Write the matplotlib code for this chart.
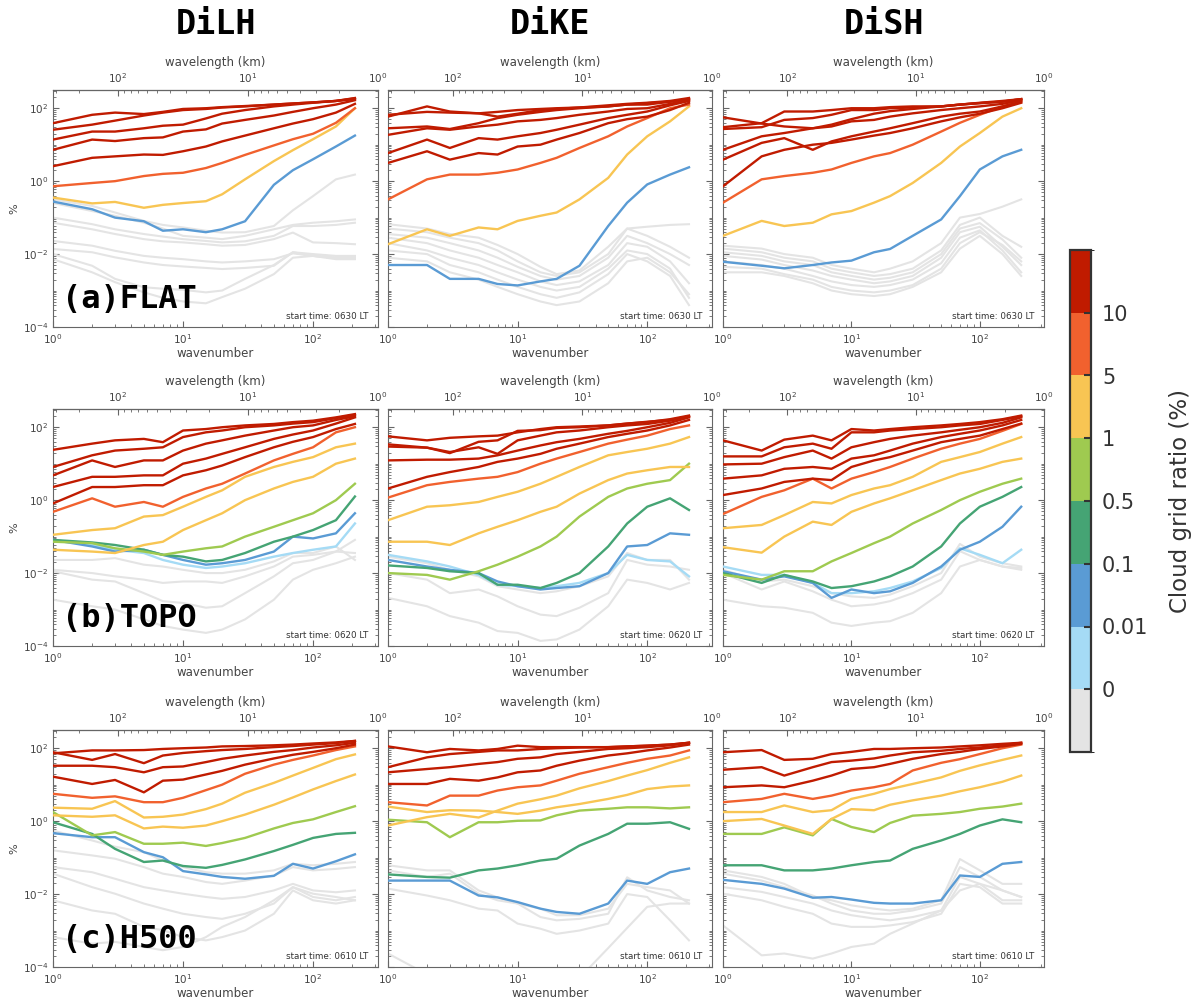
import numpy as np
import matplotlib.pyplot as plt
import matplotlib as mpl
from matplotlib.colors import ListedColormap, BoundaryNorm
from matplotlib.ticker import LogLocator, NullFormatter, FixedLocator

WAVENUMBER = [1, 2, 3, 5, 7, 10, 15, 20, 30, 50, 70, 100, 150, 210]
DOMAIN_KM = 316.0

CATEGORY_LABELS = ["0", "0.01", "0.1", "0.5", "1", "5", "10"]
# 0 gray, 1 light blue, 2 blue, 3 green, 4 light green, 5 yellow, 6 orange, 7 red
CATEGORY_COLORS = ["#e4e4e4", "#a5dbf5", "#5a9bd4", "#45a474", "#9fca50",
                   "#f8c553", "#f1612e", "#c01b00"]
ROW_NAMES = ["(a)FLAT", "(b)TOPO", "(c)H500"]
COL_NAMES = ["DiLH", "DiKE", "DiSH"]
START_TIMES = ["0630", "0620", "0610"]

# each entry: (category, log10 of % at WAVENUMBER)
FLAT_DILH = [
    (7, [1.59, 1.82, 1.88, 1.84, 1.9, 1.98, 2.0, 2.03, 2.06, 2.1, 2.13, 2.16, 2.2, 2.25]),
    (7, [1.41, 1.55, 1.66, 1.8, 1.88, 1.95, 1.98, 2.02, 2.05, 2.1, 2.13, 2.16, 2.2, 2.28]),
    (7, [1.14, 1.36, 1.36, 1.45, 1.52, 1.55, 1.72, 1.85, 1.95, 2.05, 2.1, 2.15, 2.2, 2.27]),
    (7, [0.86, 1.14, 1.1, 1.18, 1.2, 1.36, 1.42, 1.58, 1.68, 1.8, 1.9, 2.0, 2.1, 2.22]),
    (7, [0.41, 0.64, 0.68, 0.73, 0.72, 0.82, 0.95, 1.09, 1.25, 1.45, 1.58, 1.7, 1.88, 2.12]),
    (6, [-0.14, -0.05, 0.0, 0.14, 0.2, 0.23, 0.36, 0.5, 0.72, 0.98, 1.15, 1.3, 1.6, 2.0]),
    (5, [-0.45, -0.61, -0.57, -0.73, -0.65, -0.6, -0.55, -0.36, 0.05, 0.55, 0.85, 1.15, 1.5, 2.0]),
    (2, [-0.56, -0.77, -1.0, -1.1, -1.36, -1.32, -1.4, -1.32, -1.1, -0.1, 0.3, 0.6, 0.95, 1.25]),
    (0, [-0.5, -0.68, -0.86, -1.09, -1.2, -1.27, -1.36, -1.41, -1.4, -1.23, -0.8, -0.41, 0.05, 0.18]),
    (0, [-0.6, -0.82, -0.95, -1.14, -1.3, -1.5, -1.55, -1.59, -1.5, -1.32, -1.2, -1.14, -1.1, -1.05]),
    (0, [-1.0, -1.18, -1.32, -1.45, -1.52, -1.59, -1.64, -1.68, -1.65, -1.5, -1.23, -1.23, -1.2, -1.14]),
    (0, [-1.14, -1.32, -1.45, -1.59, -1.65, -1.68, -1.73, -1.77, -1.75, -1.59, -1.41, -1.68, -1.7, -1.73]),
    (0, [-1.64, -1.77, -1.91, -2.05, -2.1, -2.14, -2.2, -2.23, -2.2, -2.14, -1.98, -2.05, -2.14, -2.14]),
    (0, [-1.86, -1.95, -2.09, -2.23, -2.3, -2.34, -2.38, -2.41, -2.38, -2.32, -1.95, -2.05, -2.1, -2.1]),
    (0, [-2.0, -2.32, -2.68, -2.91, -2.95, -2.98, -3.05, -3.0, -2.68, -2.3, -1.95, -2.0, -2.05, -2.05]),
    (0, [-2.14, -2.5, -2.77, -3.05, -3.2, -3.3, -3.35, -3.18, -2.95, -2.55, -2.1, -2.05, -2.1, -2.1]),
]

FLAT_DIKE = [
    (7, [1.77, 2.05, 1.91, 1.86, 1.9, 1.95, 1.98, 2.0, 2.02, 2.05, 2.1, 2.14, 2.18, 2.25]),
    (7, [1.82, 1.9, 1.88, 1.86, 1.77, 1.85, 1.95, 1.98, 2.02, 2.08, 2.12, 2.15, 2.2, 2.28]),
    (7, [1.45, 1.5, 1.43, 1.59, 1.73, 1.82, 1.9, 1.95, 2.0, 2.05, 2.1, 2.1, 2.18, 2.25]),
    (7, [1.27, 1.45, 1.41, 1.5, 1.55, 1.64, 1.68, 1.73, 1.82, 1.91, 1.98, 2.0, 2.12, 2.22]),
    (7, [0.77, 1.14, 0.91, 1.18, 1.14, 1.23, 1.32, 1.41, 1.55, 1.73, 1.82, 1.91, 2.08, 2.2]),
    (7, [0.5, 0.82, 0.59, 0.77, 0.73, 0.95, 1.0, 1.14, 1.32, 1.59, 1.7, 1.77, 1.95, 2.15]),
    (6, [-0.5, 0.05, 0.18, 0.18, 0.23, 0.32, 0.5, 0.64, 0.91, 1.23, 1.5, 1.73, 2.0, 2.1]),
    (5, [-1.73, -1.32, -1.5, -1.27, -1.32, -1.09, -0.95, -0.86, -0.5, 0.09, 0.73, 1.23, 1.64, 2.05]),
    (2, [-2.3, -2.3, -2.68, -2.68, -2.82, -2.86, -2.75, -2.68, -2.32, -1.23, -0.59, -0.09, 0.18, 0.38]),
    (0, [-1.18, -1.3, -1.45, -1.55, -1.75, -2.0, -2.35, -2.55, -2.45, -1.8, -1.3, -1.25, -1.2, -1.18]),
    (0, [-1.3, -1.4, -1.55, -1.7, -1.9, -2.2, -2.5, -2.6, -2.5, -2.0, -1.3, -1.5, -1.8, -2.1]),
    (0, [-1.45, -1.55, -1.7, -1.9, -2.1, -2.35, -2.6, -2.7, -2.6, -2.1, -1.5, -1.7, -2.0, -2.3]),
    (0, [-1.55, -1.7, -1.9, -2.1, -2.3, -2.5, -2.75, -2.85, -2.75, -2.3, -1.7, -1.8, -2.2, -2.8]),
    (0, [-1.7, -1.9, -2.1, -2.3, -2.5, -2.7, -2.9, -3.0, -2.9, -2.4, -1.9, -2.0, -2.4, -3.2]),
    (0, [-1.9, -2.0, -2.3, -2.5, -2.7, -2.9, -3.1, -3.2, -3.05, -2.55, -2.0, -2.2, -2.6, -3.4]),
    (0, [-2.1, -2.2, -2.5, -2.7, -2.9, -3.1, -3.3, -3.4, -3.3, -2.8, -2.2, -2.1, -2.5, -3.1]),
]

FLAT_DISH = [
    (7, [1.75, 1.58, 1.5, 1.45, 1.55, 1.7, 1.85, 1.92, 1.98, 2.05, 2.1, 2.15, 2.2, 2.25]),
    (7, [1.48, 1.59, 1.91, 1.91, 1.95, 2.0, 2.0, 2.03, 2.05, 2.05, 2.1, 2.14, 2.18, 2.25]),
    (7, [1.43, 1.48, 1.68, 1.73, 1.82, 1.95, 1.95, 2.0, 2.02, 2.05, 2.1, 2.14, 2.18, 2.25]),
    (7, [0.86, 1.23, 1.32, 1.45, 1.5, 1.64, 1.68, 1.77, 1.86, 1.95, 2.0, 2.05, 2.12, 2.22]),
    (7, [0.59, 1.05, 1.18, 0.86, 1.09, 1.23, 1.36, 1.45, 1.59, 1.77, 1.85, 1.91, 2.05, 2.18]),
    (7, [-0.14, 0.68, 0.86, 1.0, 1.05, 1.14, 1.25, 1.32, 1.45, 1.64, 1.75, 1.85, 2.0, 2.15]),
    (6, [-0.59, 0.05, 0.14, 0.23, 0.32, 0.5, 0.68, 0.77, 1.0, 1.36, 1.6, 1.82, 2.05, 2.2]),
    (5, [-1.5, -1.09, -1.23, -1.14, -0.91, -0.82, -0.59, -0.41, -0.05, 0.5, 0.95, 1.32, 1.77, 2.0]),
    (2, [-2.21, -2.32, -2.39, -2.3, -2.23, -2.18, -1.95, -1.86, -1.5, -1.05, -0.41, 0.32, 0.68, 0.86]),
    (0, [-1.77, -1.85, -2.0, -2.1, -2.3, -2.4, -2.5, -2.4, -2.2, -1.7, -1.0, -0.9, -0.7, -0.5]),
    (0, [-1.85, -1.95, -2.1, -2.2, -2.4, -2.5, -2.6, -2.55, -2.4, -1.9, -1.2, -1.0, -1.5, -1.8]),
    (0, [-1.95, -2.05, -2.2, -2.3, -2.5, -2.6, -2.7, -2.65, -2.5, -2.0, -1.3, -1.15, -1.6, -2.1]),
    (0, [-2.05, -2.15, -2.3, -2.45, -2.6, -2.7, -2.8, -2.75, -2.6, -2.1, -1.4, -1.25, -1.8, -2.3]),
    (0, [-2.2, -2.3, -2.4, -2.6, -2.75, -2.85, -2.9, -2.85, -2.7, -2.25, -1.55, -1.35, -1.9, -2.5]),
    (0, [-2.35, -2.4, -2.55, -2.7, -2.9, -3.0, -3.05, -3.0, -2.85, -2.4, -1.7, -1.4, -1.75, -2.2]),
    (0, [-2.5, -2.5, -2.6, -2.8, -3.0, -3.1, -3.15, -3.1, -2.9, -2.5, -1.85, -1.5, -2.0, -2.6]),
]

TOPO_DILH = [
    (7, [1.38, 1.55, 1.64, 1.68, 1.59, 1.91, 1.95, 2.0, 2.05, 2.09, 2.14, 2.18, 2.27, 2.36]),
    (7, [0.91, 1.23, 1.36, 1.41, 1.45, 1.73, 1.86, 1.91, 2.0, 2.05, 2.1, 2.14, 2.25, 2.34]),
    (7, [0.68, 1.09, 0.91, 1.09, 1.09, 1.36, 1.55, 1.64, 1.77, 1.91, 2.0, 2.05, 2.2, 2.3]),
    (7, [0.36, 0.64, 0.64, 0.68, 0.68, 1.0, 1.14, 1.27, 1.45, 1.68, 1.8, 1.91, 2.1, 2.27]),
    (7, [-0.09, 0.36, 0.36, 0.41, 0.41, 0.68, 0.82, 0.95, 1.18, 1.45, 1.6, 1.73, 1.95, 2.09]),
    (6, [-0.32, 0.05, -0.18, -0.05, -0.18, 0.09, 0.32, 0.45, 0.73, 1.09, 1.27, 1.45, 1.86, 2.0]),
    (5, [-0.95, -0.82, -0.77, -0.45, -0.41, -0.18, 0.09, 0.27, 0.64, 0.91, 1.05, 1.18, 1.45, 1.55]),
    (5, [-1.36, -1.41, -1.45, -1.23, -1.14, -0.82, -0.55, -0.36, 0.0, 0.32, 0.5, 0.64, 1.0, 1.14]),
    (4, [-1.14, -1.18, -1.32, -1.41, -1.5, -1.41, -1.32, -1.27, -1.0, -0.73, -0.55, -0.36, 0.0, 0.45]),
    (3, [-1.09, -1.16, -1.23, -1.36, -1.5, -1.55, -1.68, -1.64, -1.45, -1.14, -1.0, -0.82, -0.55, 0.1]),
    (2, [-1.09, -1.27, -1.41, -1.36, -1.5, -1.64, -1.77, -1.73, -1.64, -1.41, -1.0, -1.05, -0.91, -0.36]),
    (1, [-1.09, -1.23, -1.36, -1.45, -1.64, -1.77, -1.86, -1.82, -1.73, -1.55, -1.45, -1.36, -1.27, -0.64]),
    (0, [-1.64, -1.64, -1.59, -1.77, -1.82, -1.91, -2.0, -2.0, -1.91, -1.68, -1.45, -1.45, -1.27, -1.64]),
    (0, [-1.91, -2.0, -2.09, -2.18, -2.27, -2.23, -2.23, -2.27, -2.09, -1.82, -1.55, -1.5, -1.41, -1.09]),
    (0, [-1.95, -2.18, -2.23, -2.55, -2.77, -2.82, -2.95, -2.91, -2.55, -2.09, -1.73, -1.64, -1.41, -1.45]),
    (0, [-2.73, -2.91, -3.0, -3.27, -3.45, -3.55, -3.64, -3.55, -3.27, -2.73, -2.18, -1.91, -1.73, -1.55]),
]

TOPO_DIKE = [
    (7, [1.75, 1.64, 1.71, 1.75, 1.77, 1.86, 1.95, 2.0, 2.02, 2.05, 2.1, 2.14, 2.22, 2.32]),
    (7, [1.53, 1.44, 1.29, 1.6, 1.64, 1.9, 1.92, 1.98, 2.0, 2.05, 2.1, 2.15, 2.2, 2.3]),
    (7, [1.47, 1.44, 1.32, 1.45, 1.27, 1.64, 1.77, 1.86, 1.91, 2.0, 2.05, 2.09, 2.18, 2.3]),
    (7, [1.09, 1.11, 1.11, 1.14, 1.23, 1.36, 1.5, 1.59, 1.68, 1.82, 1.9, 2.0, 2.12, 2.27]),
    (7, [0.32, 0.64, 0.77, 0.91, 1.05, 1.14, 1.27, 1.41, 1.55, 1.73, 1.82, 1.91, 2.05, 2.2]),
    (6, [0.07, 0.41, 0.5, 0.59, 0.64, 0.77, 1.0, 1.14, 1.32, 1.55, 1.66, 1.77, 1.95, 2.05]),
    (5, [-0.55, -0.18, -0.14, -0.05, 0.09, 0.23, 0.45, 0.64, 0.91, 1.23, 1.32, 1.41, 1.55, 1.73]),
    (5, [-1.14, -1.14, -1.23, -0.91, -0.73, -0.55, -0.32, -0.18, 0.18, 0.55, 0.73, 0.82, 0.91, 0.91]),
    (4, [-2.0, -2.05, -2.18, -1.95, -1.77, -1.55, -1.27, -1.0, -0.45, 0.09, 0.32, 0.45, 0.55, 1.0]),
    (3, [-1.79, -1.86, -1.95, -2.0, -2.32, -2.32, -2.41, -2.27, -2.0, -1.27, -0.64, -0.18, 0.05, -0.27]),
    (2, [-1.64, -1.82, -1.91, -2.0, -2.23, -2.36, -2.45, -2.41, -2.36, -2.0, -1.27, -1.23, -0.91, -0.95]),
    (1, [-1.5, -1.68, -1.82, -2.05, -2.32, -2.36, -2.41, -2.36, -2.27, -2.0, -1.5, -1.64, -1.68, -2.09]),
    (0, [-1.55, -1.73, -1.91, -2.09, -2.36, -2.45, -2.55, -2.5, -2.36, -2.09, -1.45, -1.64, -1.64, -2.18]),
    (0, [-2.0, -2.18, -2.55, -2.45, -2.64, -2.91, -3.14, -3.18, -2.95, -2.55, -1.64, -1.77, -1.82, -1.91]),
    (0, [-2.68, -2.91, -3.18, -3.36, -3.59, -3.64, -3.86, -3.82, -3.55, -2.91, -2.18, -2.27, -2.45, -2.27]),
]

TOPO_DISH = [
    (7, [1.64, 1.36, 1.66, 1.77, 1.64, 1.95, 1.91, 1.95, 2.0, 2.05, 2.09, 2.14, 2.22, 2.32]),
    (7, [1.2, 1.2, 1.45, 1.55, 1.41, 1.86, 1.86, 1.91, 1.95, 2.0, 2.05, 2.09, 2.2, 2.3]),
    (7, [0.98, 1.0, 1.18, 1.36, 1.14, 1.45, 1.59, 1.68, 1.77, 1.86, 1.93, 2.0, 2.12, 2.27]),
    (7, [0.59, 0.68, 0.86, 0.91, 0.86, 1.14, 1.23, 1.36, 1.55, 1.73, 1.82, 1.91, 2.05, 2.2]),
    (7, [0.14, 0.32, 0.5, 0.59, 0.55, 0.91, 1.09, 1.18, 1.36, 1.59, 1.68, 1.77, 1.95, 2.1]),
    (6, [-0.38, 0.09, 0.27, 0.59, 0.32, 0.59, 0.77, 0.91, 1.14, 1.41, 1.55, 1.68, 1.9, 2.09]),
    (5, [-0.77, -0.68, -0.41, -0.05, -0.09, 0.14, 0.32, 0.41, 0.64, 1.05, 1.18, 1.32, 1.55, 1.73]),
    (5, [-1.29, -1.44, -1.0, -0.59, -0.68, -0.32, -0.09, 0.05, 0.27, 0.55, 0.73, 0.86, 1.05, 1.14]),
    (4, [-2.05, -2.18, -1.95, -1.95, -1.68, -1.45, -1.18, -1.0, -0.64, -0.27, 0.0, 0.23, 0.45, 0.59]),
    (3, [-2.0, -2.27, -2.05, -2.23, -2.41, -2.36, -2.23, -2.09, -1.82, -1.27, -0.64, -0.18, 0.09, 0.36]),
    (2, [-1.95, -2.18, -2.09, -2.27, -2.68, -2.45, -2.55, -2.5, -2.27, -1.82, -1.36, -1.14, -0.73, -0.18]),
    (1, [-1.82, -2.05, -2.05, -2.27, -2.55, -2.55, -2.5, -2.41, -2.23, -1.86, -1.32, -1.5, -1.73, -1.36]),
    (0, [-1.91, -2.23, -2.18, -2.36, -2.55, -2.64, -2.68, -2.59, -2.36, -2.0, -1.2, -1.55, -1.73, -1.82]),
    (0, [-2.0, -2.45, -2.23, -2.5, -2.73, -2.91, -2.86, -2.77, -2.55, -2.18, -1.4, -1.64, -1.82, -1.91]),
    (0, [-2.73, -2.91, -2.95, -3.09, -3.36, -3.45, -3.36, -3.32, -3.09, -2.55, -1.82, -1.64, -1.82, -1.86]),
]

H500_DILH = [
    (7, [1.86, 1.94, 1.94, 1.95, 1.98, 2.0, 2.02, 2.05, 2.06, 2.08, 2.1, 2.13, 2.16, 2.2]),
    (7, [1.89, 1.68, 1.84, 1.59, 1.8, 1.87, 1.92, 1.95, 1.98, 2.03, 2.06, 2.1, 2.14, 2.2]),
    (7, [1.52, 1.52, 1.48, 1.34, 1.48, 1.5, 1.62, 1.71, 1.8, 1.9, 1.95, 2.02, 2.08, 2.15]),
    (7, [1.22, 1.02, 1.13, 0.79, 1.11, 1.14, 1.28, 1.38, 1.55, 1.72, 1.82, 1.9, 2.0, 2.1]),
    (6, [0.75, 0.64, 0.68, 0.52, 0.52, 0.64, 0.85, 1.0, 1.3, 1.55, 1.68, 1.8, 1.95, 2.05]),
    (5, [0.37, 0.34, 0.55, 0.1, 0.12, 0.18, 0.33, 0.48, 0.78, 1.05, 1.25, 1.46, 1.7, 1.83]),
    (5, [0.16, 0.12, 0.16, -0.2, -0.15, -0.18, -0.12, 0.0, 0.18, 0.45, 0.65, 0.87, 1.1, 1.28]),
    (4, [0.25, -0.39, -0.3, -0.62, -0.62, -0.59, -0.68, -0.6, -0.46, -0.2, -0.05, 0.05, 0.25, 0.41]),
    (3, [-0.03, -0.35, -0.76, -1.12, -1.08, -1.23, -1.28, -1.2, -1.05, -0.82, -0.65, -0.46, -0.35, -0.32]),
    (2, [-0.33, -0.44, -0.44, -0.85, -0.99, -1.37, -1.46, -1.53, -1.58, -1.5, -1.17, -1.3, -1.1, -0.91]),
    (0, [-0.26, -0.53, -0.7, -0.85, -1.08, -1.26, -1.4, -1.44, -1.44, -1.35, -1.17, -1.21, -1.17, -1.12]),
    (0, [-0.8, -0.94, -1.03, -1.26, -1.44, -1.53, -1.67, -1.72, -1.63, -1.49, -1.26, -1.35, -1.31, -1.26]),
    (0, [-1.26, -1.4, -1.58, -1.81, -1.9, -1.99, -2.08, -2.13, -2.08, -1.9, -1.72, -1.9, -1.95, -1.9]),
    (0, [-1.44, -1.81, -1.99, -2.26, -2.4, -2.54, -2.63, -2.68, -2.54, -2.26, -1.81, -2.08, -2.17, -2.08]),
    (0, [-2.17, -2.45, -2.54, -2.9, -2.99, -3.18, -3.27, -3.18, -3.0, -2.54, -1.9, -2.17, -2.26, -2.17]),
    (0, [-3.18, -3.36, -3.31, -3.45, -3.54, -3.45, -3.18, -2.9, -2.63, -2.17, -1.81, -1.99, -2.08, -2.17]),
]

H500_DIKE = [
    (7, [2.05, 1.89, 1.98, 1.94, 1.98, 2.07, 2.03, 2.03, 2.03, 2.03, 2.05, 2.07, 2.1, 2.15]),
    (7, [1.48, 1.75, 1.84, 1.9, 1.94, 1.94, 1.98, 2.0, 2.02, 2.03, 2.05, 2.07, 2.1, 2.15]),
    (7, [1.34, 1.43, 1.48, 1.57, 1.62, 1.71, 1.75, 1.84, 1.9, 1.98, 2.0, 2.03, 2.08, 2.15]),
    (7, [1.02, 1.02, 1.16, 1.11, 1.2, 1.34, 1.39, 1.52, 1.66, 1.8, 1.86, 1.94, 2.02, 2.1]),
    (6, [0.52, 0.43, 0.7, 0.7, 0.84, 0.93, 0.98, 1.11, 1.3, 1.48, 1.6, 1.71, 1.8, 1.94]),
    (5, [-0.12, 0.11, 0.2, 0.1, 0.29, 0.48, 0.6, 0.7, 0.9, 1.1, 1.25, 1.4, 1.6, 1.75]),
    (5, [0.4, 0.25, 0.3, 0.29, 0.25, 0.2, 0.29, 0.38, 0.47, 0.61, 0.72, 0.88, 0.95, 0.98]),
    (4, [0.04, -0.03, -0.44, -0.03, -0.03, 0.01, 0.02, 0.16, 0.29, 0.34, 0.38, 0.38, 0.35, 0.38]),
    (3, [-1.46, -1.53, -1.55, -1.35, -1.3, -1.21, -1.08, -1.03, -0.67, -0.35, -0.07, -0.07, -0.03, -0.21]),
    (2, [-1.63, -1.63, -1.63, -2.04, -2.09, -2.22, -2.4, -2.49, -2.54, -2.26, -1.63, -1.72, -1.4, -1.3]),
    (0, [-1.21, -1.35, -1.35, -1.9, -2.09, -2.26, -2.4, -2.58, -2.58, -2.4, -1.72, -1.81, -1.9, -2.26]),
    (0, [-1.35, -1.53, -1.44, -1.99, -2.17, -2.26, -2.63, -2.72, -2.68, -2.54, -1.54, -1.9, -2.08, -2.17]),
    (0, [-1.85, -2.04, -2.17, -2.4, -2.45, -2.81, -2.95, -3.09, -3.0, -2.81, -2.0, -2.08, -2.72, -3.27]),
    (0, [-3.63, -4.2, -4.5, -4.8, -5.0, -5.0, -5.0, -4.8, -4.3, -3.48, -2.93, -2.35, -2.26, -2.26]),
]

H500_DISH = [
    (7, [1.89, 1.95, 1.68, 1.71, 1.84, 1.9, 1.98, 1.98, 2.0, 2.02, 2.05, 2.08, 2.12, 2.15]),
    (7, [1.41, 1.48, 1.25, 1.48, 1.62, 1.66, 1.72, 1.8, 1.89, 1.93, 1.98, 2.02, 2.08, 2.15]),
    (7, [0.93, 0.98, 0.93, 1.11, 1.25, 1.43, 1.48, 1.57, 1.71, 1.84, 1.9, 1.98, 2.05, 2.12]),
    (6, [0.52, 0.61, 0.75, 0.61, 0.7, 0.84, 0.93, 1.02, 1.39, 1.6, 1.7, 1.84, 2.0, 2.1]),
    (5, [0.25, 0.25, 0.43, 0.25, 0.3, 0.61, 0.75, 0.88, 1.02, 1.2, 1.38, 1.53, 1.68, 1.8]),
    (5, [0.0, 0.06, -0.12, -0.35, 0.06, 0.33, 0.3, 0.45, 0.57, 0.7, 0.82, 0.93, 1.08, 1.25]),
    (4, [-0.35, -0.35, -0.17, -0.39, 0.06, -0.16, -0.3, -0.05, 0.15, 0.2, 0.25, 0.34, 0.4, 0.48]),
    (3, [-1.21, -1.21, -1.35, -1.35, -1.3, -1.21, -1.12, -1.08, -0.76, -0.53, -0.35, -0.12, 0.05, -0.03]),
    (2, [-1.61, -1.72, -1.85, -2.1, -2.08, -2.15, -2.24, -2.26, -2.26, -2.17, -1.49, -1.53, -1.17, -1.12]),
    (0, [-1.35, -1.53, -1.72, -2.08, -2.17, -2.31, -2.4, -2.45, -2.4, -2.17, -1.04, -1.35, -1.72, -1.72]),
    (0, [-1.44, -1.63, -1.81, -2.04, -2.26, -2.45, -2.54, -2.54, -2.45, -2.26, -1.26, -1.53, -1.9, -2.08]),
    (0, [-1.81, -1.94, -2.08, -2.26, -2.45, -2.58, -2.67, -2.72, -2.63, -2.45, -1.53, -1.72, -2.17, -2.17]),
    (0, [-1.99, -2.17, -2.35, -2.54, -2.81, -2.9, -2.9, -2.86, -2.77, -2.54, -1.72, -1.81, -2.26, -2.26]),
    (0, [-2.86, -3.68, -3.63, -3.77, -3.63, -3.45, -3.36, -3.09, -2.81, -2.45, -1.9, -1.72, -1.9, -2.08]),
]

PANELS = [[FLAT_DILH, FLAT_DIKE, FLAT_DISH],
          [TOPO_DILH, TOPO_DIKE, TOPO_DISH],
          [H500_DILH, H500_DIKE, H500_DISH]]

TEXT = "#444444"
SPINE = "#666666"


def to_wavelength(x):
	x = np.asarray(x, dtype=float)
	with np.errstate(divide="ignore"):
		return DOMAIN_KM / x


def draw_panel(ax, lines, row, col):
	k = np.array(WAVENUMBER, dtype=float)
	for cat, logv in sorted(lines, key=lambda t: t[0]):
		ax.plot(k, 10.0 ** np.array(logv), color=CATEGORY_COLORS[cat],
		        lw=1.5 if cat == 0 else 1.7, solid_joinstyle="round", zorder=2 + cat)
	ax.set_xscale("log")
	ax.set_yscale("log")
	ax.set_xlim(1, DOMAIN_KM)
	ax.set_ylim(1e-4, 10 ** 2.5)
	ax.xaxis.set_major_locator(FixedLocator([1, 10, 100]))
	ax.yaxis.set_major_locator(FixedLocator([1e-4, 1e-2, 1e0, 1e2]))
	ax.yaxis.set_minor_locator(LogLocator(base=10, subs=np.arange(1, 10), numticks=60))
	ax.yaxis.set_minor_formatter(NullFormatter())
	ax.tick_params(which="both", direction="in", top=False, right=True,
	               colors=SPINE, labelcolor=TEXT, labelsize=7.5)
	ax.tick_params(which="major", length=4, width=0.8)
	ax.tick_params(which="minor", length=2, width=0.6)
	if col > 0:
		ax.tick_params(labelleft=False)
	else:
		ax.set_ylabel("%", fontsize=8, color=TEXT, labelpad=2)
	for s in ax.spines.values():
		s.set_color(SPINE)
		s.set_linewidth(0.8)
	ax.set_xlabel("wavenumber", fontsize=8.5, color=TEXT, labelpad=1)

	sec = ax.secondary_xaxis("top", functions=(to_wavelength, to_wavelength))
	sec.xaxis.set_major_locator(FixedLocator([1, 10, 100]))
	sec.tick_params(which="both", direction="in", colors=SPINE, labelcolor=TEXT, labelsize=7.5)
	sec.tick_params(which="major", length=4, width=0.8)
	sec.tick_params(which="minor", length=2, width=0.6)
	sec.set_xlabel("wavelength (km)", fontsize=8.5, color=TEXT, labelpad=4)

	ax.text(0.97, 0.025, "start time: %s LT" % START_TIMES[row], transform=ax.transAxes,
	        ha="right", va="bottom", fontsize=6.3, color="#333333", zorder=20)
	if col == 0:
		ax.text(0.028, 0.08, ROW_NAMES[row], transform=ax.transAxes, ha="left", va="baseline",
		        fontsize=23, fontfamily="DejaVu Sans Mono", fontweight="bold", color="black", zorder=20)


fig = plt.figure(figsize=(11.99, 10.05), dpi=100)

W, H = 1199.0, 1005.0
col_left = [53, 388, 723]
col_width = [325, 324, 321]
row_top = [90, 409, 730]
row_height = 237

for r in range(3):
	for c in range(3):
		ax = fig.add_axes([col_left[c] / W, 1 - (row_top[r] + row_height) / H,
		                   col_width[c] / W, row_height / H])
		draw_panel(ax, PANELS[r][c], r, c)

for c, name in enumerate(COL_NAMES):
	fig.text((col_left[c] + col_width[c] / 2) / W, 1 - 25 / H, name, ha="center", va="center",
	         fontsize=24, fontfamily="DejaVu Sans Mono", fontweight="bold")

# discrete colorbar
cax = fig.add_axes([1070 / W, 1 - 752 / H, 21 / W, 502 / H])
cmap = ListedColormap(CATEGORY_COLORS)
norm = BoundaryNorm(np.arange(len(CATEGORY_COLORS) + 1), cmap.N)
cb = mpl.colorbar.ColorbarBase(cax, cmap=cmap, norm=norm,
                               ticks=np.arange(1, len(CATEGORY_COLORS)))
cb.set_ticklabels(CATEGORY_LABELS)
cb.ax.tick_params(direction="in", length=5, width=1.5, colors="#333333", labelsize=15, pad=8)
cb.outline.set_edgecolor("#333333")
cb.outline.set_linewidth(1.6)
cb.set_label("Cloud grid ratio (%)", fontsize=16.5, color="#333333", labelpad=15)

fig.savefig("out.png", dpi=100)
